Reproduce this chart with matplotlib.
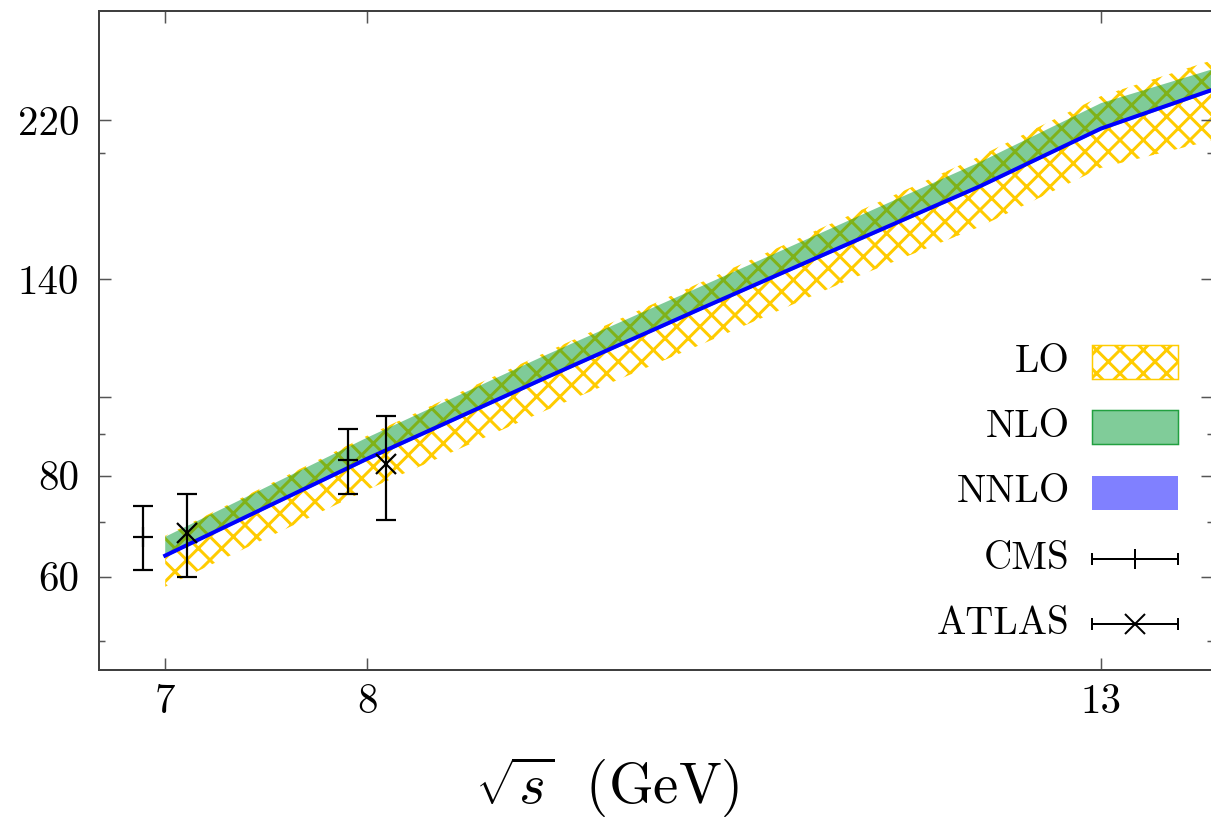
import matplotlib
matplotlib.use('Agg')
import matplotlib.pyplot as plt
from matplotlib.patches import Rectangle
from matplotlib.ticker import FixedLocator, FixedFormatter, NullLocator, NullFormatter

DPI = 70
PT = 72.0 / DPI  # points per pixel

plt.rcParams['font.family'] = 'serif'
plt.rcParams['font.serif'] = ['cmr10']
plt.rcParams['mathtext.fontset'] = 'cm'
plt.rcParams['axes.unicode_minus'] = False
plt.rcParams['hatch.linewidth'] = 3.0 * PT

# centre-of-mass energies and cross sections
energy = [7, 8, 9, 10, 11, 12, 13, 14]
lo_low = [58.3, 76.8, 96.2, 116.6, 139.5, 162.4, 192.0, 207.7]
lo_high = [67.4, 89.6, 113.5, 139.2, 167.5, 198.5, 235.5, 261.0]
nlo_low = [63.4, 83.4, 105.0, 128.5, 153.8, 181.2, 213.5, 238.5]
nlo_high = [67.2, 89.1, 112.6, 137.6, 165.2, 195.2, 230.8, 254.3]
nnlo_low = [63.5, 83.6, 105.2, 128.8, 154.2, 181.6, 214.2, 239.2]
nnlo_high = [63.9, 84.2, 106.0, 129.6, 155.2, 182.8, 215.2, 240.6]
nnlo = [63.7, 83.9, 105.6, 129.2, 154.7, 182.2, 214.7, 239.9]

# measurements
cms_x = [6.9, 7.9]
cms_y = [67.2, 83.6]
cms_err = [6.1, 7.7]
atlas_x = [7.1, 8.1]
atlas_y = [68.0, 82.6]
atlas_err = [8.0, 12.1]

x_ticks = [7, 8, 13]
y_major = [60, 80, 100, 140, 220]
y_major_labels = ['60', '80', '', '140', '220']
y_minor = [50, 70, 90, 200]

LO_COL = '#FFCC00'
NLO_COL = '#009933'
NNLO_COL = '#0000FF'

fig = plt.figure(figsize=(1211 / DPI, 819 / DPI), dpi=DPI)
ax = fig.add_axes([99 / 1211, 149 / 819, 1114 / 1211, 659 / 819])
ax.set_xscale('log')
ax.set_yscale('log')

# bands
ax.fill_between(energy, lo_low, lo_high, facecolor='none', edgecolor=LO_COL,
                hatch='x', linewidth=0)
ax.fill_between(energy, nlo_low, nlo_high, facecolor=NLO_COL, alpha=0.5,
                linewidth=0)
ax.fill_between(energy, nnlo_low, nnlo_high, facecolor=NNLO_COL, alpha=0.5,
                linewidth=0)
ax.plot(energy, nnlo, color=NNLO_COL, lw=4 * PT)

# data points
ax.errorbar(cms_x, cms_y, yerr=cms_err, fmt='+', color='k', ms=21 * PT,
            mew=2.2 * PT, elinewidth=2.2 * PT, capsize=10 * PT, capthick=2.2 * PT)
ax.errorbar(atlas_x, atlas_y, yerr=atlas_err, fmt='x', color='k', ms=21 * PT,
            mew=2.2 * PT, elinewidth=2.2 * PT, capsize=10 * PT, capthick=2.2 * PT)

ax.set_xlim(6.7, 14.0)
ax.set_ylim(46, 300)

ax.xaxis.set_major_locator(FixedLocator(x_ticks))
ax.xaxis.set_major_formatter(FixedFormatter([str(t) for t in x_ticks]))
ax.xaxis.set_minor_locator(NullLocator())
ax.yaxis.set_major_locator(FixedLocator(y_major))
ax.yaxis.set_major_formatter(FixedFormatter(y_major_labels))
ax.yaxis.set_minor_locator(FixedLocator(y_minor))
ax.yaxis.set_minor_formatter(NullFormatter())

tick_font = 41 * PT
ax.tick_params(which='both', direction='in', top=True, right=True,
               color='#555555', width=1.5 * PT)
ax.tick_params(which='major', length=12 * PT, labelsize=tick_font)
ax.tick_params(which='minor', length=6 * PT)
ax.tick_params(axis='x', pad=14 * PT)
ax.tick_params(axis='y', pad=20 * PT)
for sp in ax.spines.values():
    sp.set_color('#404040')
    sp.set_linewidth(2 * PT)

ax.set_xlabel(r'$\sqrt{s}\ \ $(GeV)', fontsize=57 * PT)
ax.xaxis.set_label_coords(0.4560, -0.128)


# key, drawn in axes coordinates
def ax_xy(px, py):
    return (px - 99) / 1114, (670 - py) / 659


legend_font = 39 * PT
rows = [('LO', 362), ('NLO', 427), ('NNLO', 492), ('CMS', 559), ('ATLAS', 624)]
for name, py in rows:
    tx, ty = ax_xy(1070, py)
    ax.text(tx, ty, name, transform=ax.transAxes, ha='right', va='center',
            fontsize=legend_font)

box_w = 86 / 1114
box_h = 34 / 659
x0, _ = ax_xy(1092, 0)
_, y_lo = ax_xy(0, 379)
ax.add_patch(Rectangle((x0, y_lo), box_w, box_h, transform=ax.transAxes,
                       facecolor='none', edgecolor=LO_COL, hatch='x',
                       linewidth=1.5 * PT))
_, y_nlo = ax_xy(0, 444)
ax.add_patch(Rectangle((x0, y_nlo), box_w, box_h, transform=ax.transAxes,
                       facecolor=(0.5, 0.8, 0.6), edgecolor='#22a040',
                       linewidth=1.5 * PT))
_, y_nnlo = ax_xy(0, 510)
ax.add_patch(Rectangle((x0, y_nnlo), box_w, box_h, transform=ax.transAxes,
                       facecolor=(0.5, 0.5, 1.0), edgecolor='none'))

x1 = x0 + box_w
xm = (x0 + x1) / 2
for py, mk in [(559, '+'), (624, 'x')]:
    _, yy = ax_xy(0, py)
    ax.plot([x0, x1], [yy, yy], color='k', lw=2 * PT, transform=ax.transAxes,
            clip_on=False)
    ax.plot([x0, x1], [yy, yy], ls='none', marker='|', ms=13 * PT,
            mew=2 * PT, color='k', transform=ax.transAxes, clip_on=False)
    ax.plot([xm], [yy], ls='none', marker=mk, ms=21 * PT, mew=2 * PT,
            color='k', transform=ax.transAxes, clip_on=False)

fig.savefig('out.png', dpi=DPI)
